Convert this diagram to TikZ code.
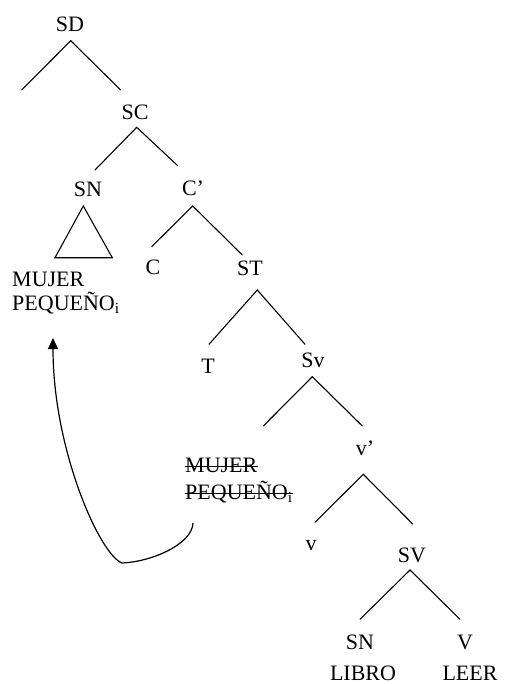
\documentclass[tikz,border=0pt]{standalone}
\usepackage{fontspec}
\setmainfont{Liberation Serif}
\usetikzlibrary{arrows.meta,calc}
\begin{document}
\begin{tikzpicture}[x=1pt,y=-1pt,
  lbl/.style={font=\fontsize{22}{26}\selectfont, inner sep=0pt, anchor=base},
  lblw/.style={lbl, anchor=base west},
  br/.style={line width=1.1pt, line cap=round},
  strk/.style={line width=0.9pt},
  mover/.style={line width=1.2pt, -{Triangle[length=11pt,width=10pt]}}]
\useasboundingbox (0,0) rectangle (504,684);
% labels
\node[lbl] (SD) at (70,32) {SD};
\node[lbl] (SC) at (135,119.5) {SC};
\node[lbl] (SN1) at (88,197) {SN};
\node[lbl] (Cb) at (193,196) {C’};
\node[lbl] (C) at (153,274) {C};
\node[lbl] (ST) at (250,276) {ST};
\node[lblw] (mj1) at (12,286) {MUJER};
\node[lblw] (pq1) at (12,310) {PEQUEÑO\textsubscript{i}};
\node[lbl] (T) at (208,373) {T};
\node[lbl] (Sv) at (313,367) {Sv};
\node[lbl] (vb) at (365,455) {v’};
\node[lblw] (mj2) at (185,472) {MUJER};
\node[lblw] (pq2) at (185,499) {PEQUEÑO\textsubscript{i}};
\node[lbl] (v) at (311,550) {v};
\node[lbl] (SV) at (412,562) {SV};
\node[lbl] (SN2) at (360,649) {SN};
\node[lbl] (V) at (465,649) {V};
\node[lbl] (LIBRO) at (363,680) {LIBRO};
\node[lbl] (LEER) at (470,680) {LEER};
% branch points
\coordinate (aSD) at (70.7,40.7);
\coordinate (lSD) at (21.7,90);
\coordinate (rSD) at (120.7,90);
\coordinate (aSC) at (136.7,127.3);
\coordinate (lSC) at (95,170);
\coordinate (rSC) at (177.7,165.7);
\coordinate (tA) at (83.3,206);
\coordinate (tL) at (55,257.7);
\coordinate (tR) at (112.3,257.7);
\coordinate (aCb) at (192.7,206);
\coordinate (lCb) at (151.7,246.7);
\coordinate (rCb) at (242.3,255);
\coordinate (aST) at (257.3,290);
\coordinate (lST) at (209,344.3);
\coordinate (rST) at (305,344.3);
\coordinate (aSv) at (312.3,376.7);
\coordinate (lSv) at (263.3,426);
\coordinate (rSv) at (362.3,426);
\coordinate (avb) at (363.3,474.3);
\coordinate (lvb) at (315,522.3);
\coordinate (rvb) at (412.7,524);
\coordinate (aSV) at (410,570);
\coordinate (lSV) at (360,619.3);
\coordinate (rSV) at (460,619.3);
% branches
\draw[br] (lSD) -- (aSD) -- (rSD);
\draw[br] (lSC) -- (aSC) -- (rSC);
\draw[br] (tA) -- (tL) -- (tR) -- cycle;
\draw[br] (lCb) -- (aCb) -- (rCb);
\draw[br] (lST) -- (aST) -- (rST);
\draw[br] (lSv) -- (aSv) -- (rSv);
\draw[br] (lvb) -- (avb) -- (rvb);
\draw[br] (lSV) -- (aSV) -- (rSV);
% strike-through of the trace
\draw[strk] ($(mj2.base west)+(0,-5.5)$) -- ($(mj2.base east)+(0,-5.5)$);
\draw[strk] ($(pq2.base west)+(0,-5.3)$) -- ($(pq2.base east)+(0,-5.3)$);
% movement arrow
\coordinate (mvS) at (193,523);
\coordinate (mvB) at (122,563);
\coordinate (mvE) at (53,338);
\draw[mover] (mvS) .. controls (192,545) and (150,562) .. (mvB)
  .. controls (100,555) and (53,450) .. (mvE);
\end{tikzpicture}
\end{document}
